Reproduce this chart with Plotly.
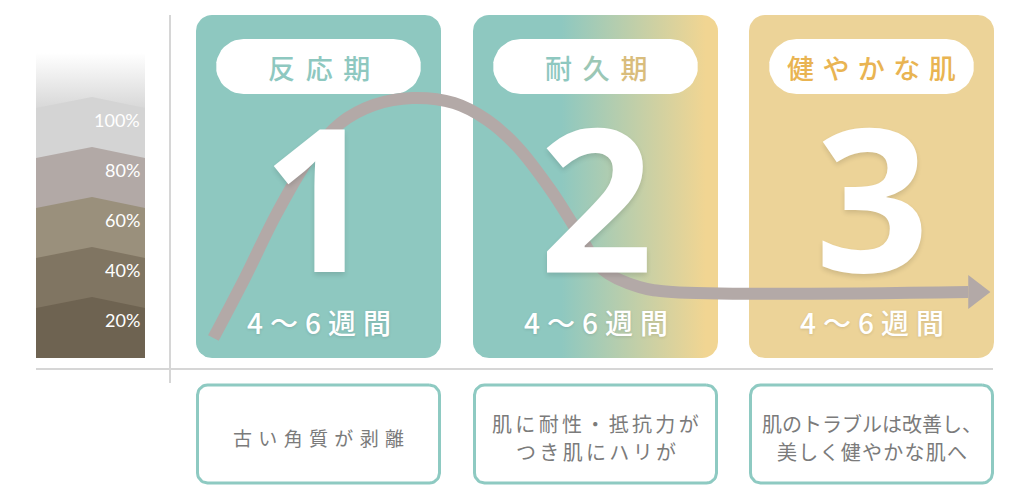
import math
import plotly.graph_objects as go

# -----------------------------
# 1. Data
# -----------------------------
stage_names = ["反応期", "耐久期", "健やかな肌"]
stage_numbers = ["1", "2", "3"]
stage_periods = ["4〜6週間", "4〜6週間", "4〜6週間"]
stage_notes = [
    ["古い角質が剥離"],
    ["肌に耐性・抵抗力が", "つき肌にハリが"],
    ["肌のトラブルは改善し、", "美しく健やかな肌へ"],
]

scale_levels = [100, 80, 60, 40, 20]
scale_labels = ["100%", "80%", "60%", "40%", "20%"]
scale_colors = ["#d4d4d4", "#b2a9a6", "#9a907c", "#807562", "#6e6351"]

# skin condition curve: x = stage (1 = centre of stage 1), y = level in %
curve_stage = [0.62, 0.73, 0.85, 0.97, 1.08, 1.20, 1.34, 1.49, 1.61, 1.72,
               1.84, 1.94, 2.03, 2.16, 2.28, 3.35]
curve_level = [8.0, 31.2, 58.0, 80.4, 94.0, 101.2, 104.0, 102.0, 95.2, 84.4,
               67.2, 50.0, 35.2, 28.4, 26.4, 26.4]
arrow_tip = 3.43

# -----------------------------
# 2. Layout constants (pixels)
# -----------------------------
W, H = 1030, 500
PANEL_X = [196, 473, 749]
PANEL_W = 245
PANEL_TOP, PANEL_BOTTOM = 15, 358
BOX_TOP, BOX_BOTTOM = 385, 483
TEAL = "#8ec8c0"
GOLD = "#ecd398"
JP = "Noto Sans CJK JP"

# data axes: stage 1 centre at 318.5px, 276.5px per stage; 0% at 358px, 2.5px per %
STAGE_C, STAGE_PITCH = 318.5, 276.5
ZERO_Y, PX_PER_PCT = 358, 2.5
BAR_X0 = 1 + (36 - STAGE_C) / STAGE_PITCH
BAR_X1 = 1 + (145 - STAGE_C) / STAGE_PITCH
BAR_MID = 1 + (92 - STAGE_C) / STAGE_PITCH


def rounded_rect(x0, y0, x1, y1, r, n=10):
    xs, ys = [], []
    corners = [(x1 - r, y0 + r, -90, 0), (x1 - r, y1 - r, 0, 90),
               (x0 + r, y1 - r, 90, 180), (x0 + r, y0 + r, 180, 270)]
    for cx, cy, a0, a1 in corners:
        for i in range(n + 1):
            a = math.radians(a0 + (a1 - a0) * i / n)
            xs.append(cx + r * math.cos(a))
            ys.append(cy + r * math.sin(a))
    xs.append(xs[0])
    ys.append(ys[0])
    return xs, ys


fig = go.Figure()

# -----------------------------
# 3. Panels, pills, boxes (pixel axes)
# -----------------------------
panel_fills = [
    dict(fillcolor=TEAL),
    dict(fillgradient=dict(type="horizontal", colorscale=[
        [0, TEAL], [0.36, TEAL], [0.95, "#f1d592"], [1, "#f1d592"]])),
    dict(fillcolor=GOLD),
]
for px0, fill in zip(PANEL_X, panel_fills):
    xs, ys = rounded_rect(px0, PANEL_TOP, px0 + PANEL_W, PANEL_BOTTOM, 16)
    fig.add_trace(go.Scatter(x=xs, y=ys, fill="toself", mode="lines",
                             line=dict(width=0), showlegend=False,
                             hoverinfo="skip", **fill))
    xs, ys = rounded_rect(px0 + 20, 39, px0 + PANEL_W - 20, 94, 27.5)
    fig.add_trace(go.Scatter(x=xs, y=ys, fill="toself", mode="lines",
                             fillcolor="white", line=dict(width=0),
                             showlegend=False, hoverinfo="skip"))
    xs, ys = rounded_rect(px0 + 1.5, BOX_TOP, px0 + PANEL_W - 1.5, BOX_BOTTOM, 10)
    fig.add_trace(go.Scatter(x=xs, y=ys, fill="toself", mode="lines",
                             fillcolor="white", line=dict(width=3, color="#8ecac2"),
                             showlegend=False, hoverinfo="skip"))

# -----------------------------
# 4. Scale bar and curve (data axes)
# -----------------------------
fig.add_trace(go.Scatter(
    x=[BAR_X0, BAR_X1, BAR_X1, BAR_X0, BAR_X0], y=[100, 100, 122, 122, 100],
    fill="toself", mode="lines", line=dict(width=0),
    fillgradient=dict(type="vertical", colorscale=[[0, "#d8d8d8"], [1, "#ffffff"]]),
    xaxis="x2", yaxis="y2", showlegend=False, hoverinfo="skip"))

for level, color in zip(scale_levels, scale_colors):
    fig.add_trace(go.Scatter(
        x=[BAR_X0, BAR_X0, BAR_MID, BAR_X1, BAR_X1, BAR_X0],
        y=[0, level, level + 4.4, level, 0, 0],
        fill="toself", mode="lines", fillcolor=color, line=dict(width=0),
        xaxis="x2", yaxis="y2", showlegend=False, hoverinfo="skip"))

fig.add_trace(go.Scatter(
    x=curve_stage, y=curve_level, mode="lines",
    line=dict(color="#b3a9a7", width=12, shape="spline", smoothing=1),
    xaxis="x2", yaxis="y2", showlegend=False, hoverinfo="skip"))

fig.add_trace(go.Scatter(
    x=[curve_stage[-1], arrow_tip, curve_stage[-1], curve_stage[-1]],
    y=[curve_level[-1] + 6.8, curve_level[-1], curve_level[-1] - 6.8, curve_level[-1] + 6.8],
    fill="toself", mode="lines", fillcolor="#b3a9a7", line=dict(width=0),
    xaxis="x2", yaxis="y2", showlegend=False, hoverinfo="skip"))

# -----------------------------
# 5. Text
# -----------------------------
annotations = []
for label, level in zip(scale_labels, scale_levels):
    annotations.append(dict(
        x=1 + (142 - STAGE_C) / STAGE_PITCH, y=level - 4.6, xref="x2", yref="y2",
        text=label, showarrow=False, xanchor="right", yanchor="middle",
        font=dict(family="Lato", size=18, color="white")))

name_text = [
    "\u2004\u200a".join(stage_names[0]),
    "\u2004\u200a".join(f"<span style='color:{c}'>{ch}</span>" for ch, c in
                        zip(stage_names[1], ["#8ec8c0", "#9bc7b5", "#d9bd7c"])),
    "\u2005\u200a".join(stage_names[2]),
]
name_colors = [TEAL, TEAL, "#e9b452"]

for i, px0 in enumerate(PANEL_X):
    cx = px0 + PANEL_W / 2
    annotations.append(dict(
        x=cx, y=67, xref="x", yref="y", text=name_text[i], showarrow=False,
        font=dict(family=JP, size=27, color=name_colors[i], weight=500)))
    annotations.append(dict(
        x=cx, y=194, xref="x", yref="y", text=stage_numbers[i], showarrow=False,
        font=dict(family="Open Sans", size=200, color="white", weight="bold",
                  shadow="0px 3px 5px rgba(0,0,0,0.12)")))
    annotations.append(dict(
        x=cx, y=322, xref="x", yref="y", text="\u2005".join(stage_periods[i]),
        showarrow=False,
        font=dict(family=JP, size=28, color="white", weight=500,
                  shadow="0px 1px 3px rgba(0,0,0,0.12)")))
    lines = stage_notes[i]
    if len(lines) == 1:
        ys, seps, size = [437], ["\u2004"], 19
    elif i == 1:
        ys, seps, size = [423, 451], ["\u2006", "\u2006"], 20
    else:
        ys, seps, size = [423, 451], ["", "\u200a"], 20
    for line, ly, sp in zip(lines, ys, seps):
        annotations.append(dict(
            x=cx, y=ly, xref="x", yref="y", text=sp.join(line), showarrow=False,
            font=dict(family=JP, size=size, color="#7b7b7b")))

# -----------------------------
# 6. Layout
# -----------------------------
hidden = dict(visible=False, showgrid=False, zeroline=False, fixedrange=True)
fig.update_layout(
    width=W, height=H,
    margin=dict(l=0, r=0, t=0, b=0, pad=0),
    paper_bgcolor="white", plot_bgcolor="white",
    hovermode=False,
    xaxis=dict(range=[0, W], **hidden),
    yaxis=dict(range=[H, 0], **hidden),
    xaxis2=dict(range=[1 - STAGE_C / STAGE_PITCH, 1 + (W - STAGE_C) / STAGE_PITCH],
                overlaying="x", anchor="y2", **hidden),
    yaxis2=dict(range=[(ZERO_Y - H) / PX_PER_PCT, ZERO_Y / PX_PER_PCT],
                overlaying="y", anchor="x2", **hidden),
    shapes=[
        dict(type="line", xref="x", yref="y", x0=170, x1=170, y0=15, y1=383,
             line=dict(color="#d6d6d6", width=2), layer="below"),
        dict(type="line", xref="x", yref="y", x0=36, x1=993, y0=369, y1=369,
             line=dict(color="#d6d6d6", width=2), layer="below"),
    ],
    annotations=annotations,
)

fig.write_html("out.html", config={"displayModeBar": False},
               post_script="document.body.style.margin='0';")
